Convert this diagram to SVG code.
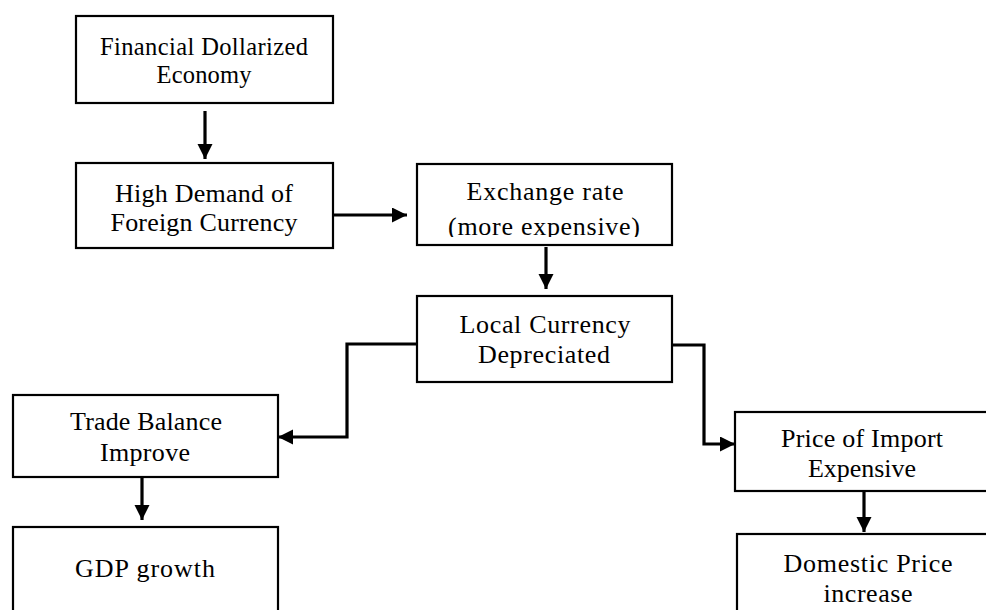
<svg xmlns="http://www.w3.org/2000/svg" width="986" height="610" viewBox="0 0 986 610">
<style>
.box{fill:#fff;stroke:#000;stroke-width:2.2}
.t{font-family:"Liberation Serif","Times New Roman",serif;font-size:26px;fill:#000;text-anchor:middle}
.t1{font-size:24.5px}
.c{fill:none;stroke:#000;stroke-width:3.2}
</style>
<defs>
<marker id="ah" markerUnits="userSpaceOnUse" markerWidth="16" markerHeight="16" refX="15" refY="7.5" orient="auto">
<path d="M0,0 L15,7.5 L0,15 Z" fill="#000"/>
</marker>
<clipPath id="clip3"><rect x="417" y="164" width="255" height="73"/></clipPath>
</defs>
<rect width="986" height="610" fill="#fff"/>
<g id="n1"><rect class="box" x="76" y="16" width="257" height="87"/>
<text class="t t1" x="204" y="55" textLength="208">Financial Dollarized</text>
<text class="t t1" x="204" y="83" textLength="95">Economy</text></g>
<g id="n2"><rect class="box" x="76" y="163" width="257" height="85"/>
<text class="t" x="204" y="202" textLength="178">High Demand of</text>
<text class="t" x="204" y="231" textLength="187">Foreign Currency</text></g>
<g id="n3"><rect class="box" x="417" y="164" width="255" height="81"/>
<text class="t" x="545" y="200" textLength="157">Exchange rate</text>
<text class="t" x="544" y="235" textLength="192" clip-path="url(#clip3)">(more expensive)</text></g>
<g id="n4"><rect class="box" x="417" y="296" width="255" height="86"/>
<text class="t" x="545" y="333" textLength="171">Local Currency</text>
<text class="t" x="544" y="363" textLength="132">Depreciated</text></g>
<g id="n5"><rect class="box" x="13" y="395" width="265" height="82"/>
<text class="t" x="146" y="430" textLength="152">Trade Balance</text>
<text class="t" x="145" y="461" textLength="90">Improve</text></g>
<g id="n6"><rect class="box" x="13" y="527" width="265" height="100"/>
<text class="t" x="145" y="577" textLength="140">GDP growth</text></g>
<g id="n7"><rect class="box" x="735" y="412" width="270" height="79"/>
<text class="t" x="862" y="447" textLength="162">Price of Import</text>
<text class="t" x="862" y="477" textLength="108">Expensive</text></g>
<g id="n8"><rect class="box" x="737" y="534" width="270" height="100"/>
<text class="t" x="868" y="572" textLength="169">Domestic Price</text>
<text class="t" x="868" y="602" textLength="89">increase</text></g>
<g id="connectors">
<path class="c" d="M205 111 V159" marker-end="url(#ah)"/>
<path class="c" d="M334 215 H407" marker-end="url(#ah)"/>
<path class="c" d="M546 247 V289" marker-end="url(#ah)"/>
<path class="c" d="M417 344 H347 V437 H278" marker-end="url(#ah)"/>
<path class="c" d="M673 345 H704 V444 H735" marker-end="url(#ah)"/>
<path class="c" d="M142 478 V520" marker-end="url(#ah)"/>
<path class="c" d="M864 492 V532" marker-end="url(#ah)"/>
</g>
</svg>
